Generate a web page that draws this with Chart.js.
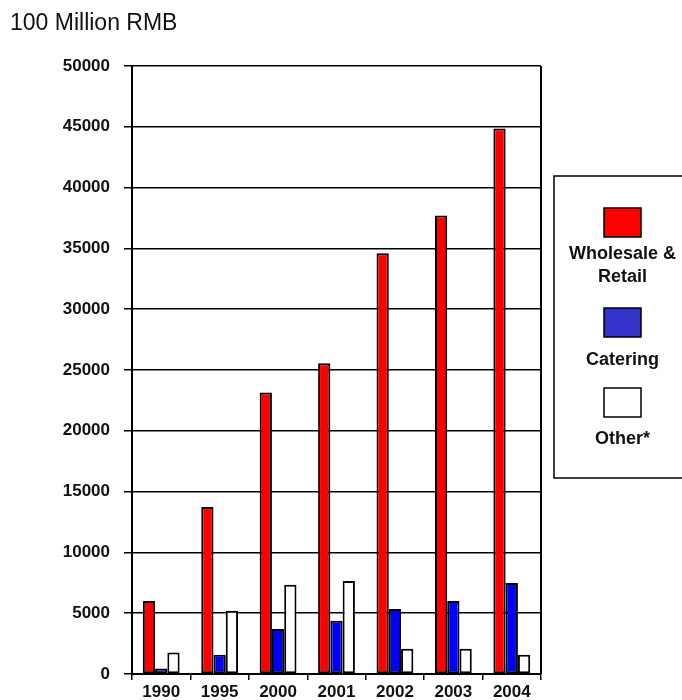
<!DOCTYPE html>
<html>
<head>
<meta charset="utf-8">
<script src="https://cdn.jsdelivr.net/npm/chart.js@4/dist/chart.umd.min.js"></script>
<style>
  html, body { margin: 0; padding: 0; background: #fff; }
  #wrap { width: 682px; height: 700px; position: relative; }
</style>
</head>
<body>
<div id="wrap"><canvas id="c"></canvas></div>
<script>
// Retail sales by sector, 100 million RMB
const categories = ['1990', '1995', '2000', '2001', '2002', '2003', '2004'];
const wholesaleRetail = [6000, 13730, 23150, 25550, 34600, 37700, 44850];
const catering = [460, 1580, 3710, 4370, 5350, 6000, 7480];
const other = [1770, 5210, 7340, 7650, 2070, 2070, 1580];
const seriesNames = [['Wholesale &', 'Retail'], ['Catering'], ['Other*']];
const yTicks = [0, 5000, 10000, 15000, 20000, 25000, 30000, 35000, 40000, 45000, 50000];
const unitTitle = '100 Million RMB';

const FONT = '"Liberation Sans", Arial, sans-serif';

// Frame, unit caption and the stacked-text legend on the right
const decorations = {
  id: 'decorations',
  afterDraw(chart) {
    const ctx = chart.ctx;
    const a = chart.chartArea;
    ctx.save();
    // right edge of the plot frame
    ctx.strokeStyle = '#000';
    ctx.lineWidth = 2;
    ctx.beginPath();
    ctx.moveTo(a.right, a.top);
    ctx.lineTo(a.right, a.bottom);
    ctx.stroke();

    // unit caption
    ctx.fillStyle = '#111';
    ctx.font = '23px ' + FONT;
    ctx.textAlign = 'left';
    ctx.textBaseline = 'alphabetic';
    ctx.fillText(unitTitle, 10, 30);

    // legend box
    ctx.lineWidth = 1.5;
    ctx.strokeRect(554, 176, 140, 302);

    const cx = 622.5;
    const swatchColors = ['#ff0000', '#3333cc', '#ffffff'];
    const swatchTops = [208, 308, 388];
    const textCenters = [[254, 277], [360], [439]];
    ctx.font = 'bold 18px ' + FONT;
    ctx.textAlign = 'center';
    ctx.textBaseline = 'middle';
    chart.data.datasets.forEach((ds, i) => {
      ctx.fillStyle = swatchColors[i];
      ctx.fillRect(cx - 18.5, swatchTops[i], 37, 29);
      ctx.strokeStyle = '#000';
      ctx.lineWidth = 1.5;
      ctx.strokeRect(cx - 18.5, swatchTops[i], 37, 29);
      ctx.fillStyle = '#111';
      seriesNames[i].forEach((line, j) => {
        ctx.fillText(line, cx, textCenters[i][j]);
      });
    });
    ctx.restore();
  }
};

const barStyle = { borderColor: '#000', borderWidth: 2, borderSkipped: false };

new Chart(document.getElementById('c'), {
  type: 'bar',
  data: {
    labels: categories,
    datasets: [
      { label: 'Wholesale & Retail', data: wholesaleRetail, backgroundColor: '#ff0000', ...barStyle },
      { label: 'Catering', data: catering, backgroundColor: '#0000ff', ...barStyle },
      { label: 'Other*', data: other, backgroundColor: '#ffffff', ...barStyle }
    ]
  },
  options: {
    responsive: true,
    maintainAspectRatio: false,
    animation: false,
    layout: { padding: { left: 0, right: 141, top: 66, bottom: 0 } },
    plugins: {
      legend: { display: false },
      title: { display: false },
      tooltip: { enabled: false }
    },
    datasets: {
      bar: { categoryPercentage: 0.63, barPercentage: 1.0 }
    },
    scales: {
      x: {
        offset: true,
        grid: {
          display: true,
          offset: true,
          drawOnChartArea: false,
          drawTicks: true,
          tickLength: 6,
          color: '#000',
          lineWidth: 1.5
        },
        border: { display: true, color: '#000', width: 2 },
        ticks: {
          color: '#111',
          font: { family: FONT, size: 17, weight: 'bold' },
          padding: 2,
          maxRotation: 0,
          autoSkip: false
        },
        afterFit(scale) { scale.height = 26; }
      },
      y: {
        min: 0,
        max: 50000,
        afterBuildTicks(scale) { scale.ticks = yTicks.map(v => ({ value: v })); },
        grid: {
          color: '#000',
          lineWidth: 1.5,
          drawTicks: true,
          tickLength: 8
        },
        border: { display: true, color: '#000', width: 2 },
        ticks: {
          color: '#111',
          font: { family: FONT, size: 17, weight: 'bold' },
          padding: 14,
          callback: v => String(v)
        },
        afterFit(scale) { scale.width = 132; }
      }
    }
  },
  plugins: [decorations]
});
</script>
</body>
</html>
